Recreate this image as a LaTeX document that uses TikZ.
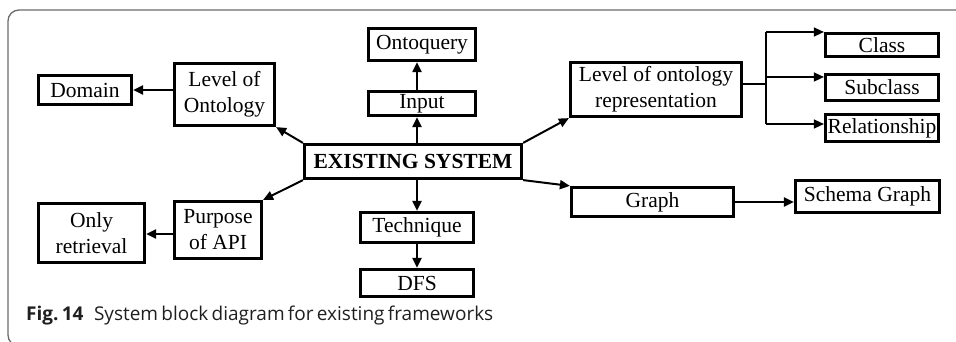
\documentclass[tikz,border=0pt]{standalone}
\usepackage{fontspec}
\setmainfont{Liberation Serif}
\newfontfamily\capfont{Open Sans}
\usetikzlibrary{arrows.meta,calc}

\tikzset{
  box/.style={draw=black, line width=3.2pt, fill=white, inner sep=1pt,
    align=center, font=\fontsize{21.5}{26}\selectfont},
  conn/.style={line width=2pt, -{Triangle[length=10pt,width=9pt]}},
  branch/.style={line width=1.5pt},
  frameline/.style={draw=black!58, line width=1.3pt, rounded corners=11pt},
}

\begin{document}
\begin{tikzpicture}[x=1pt, y=-1pt]
\useasboundingbox (0,0) rectangle (956,342);

% outer figure frame, open on the right
\draw[frameline] (970,10) -- (8,10) -- (8,346) -- (970,346);

% centre block
\node[box, minimum width=217pt, minimum height=34pt] (exist) at (413,161.5) {\textbf{EXISTING SYSTEM}};

% upper middle column
\node[box, minimum width=107pt, minimum height=24pt] (input) at (422,103.5) {Input};
\node[box, minimum width=107pt, minimum height=32pt] (onto)  at (422,44.5)  {Ontoquery};

% lower middle column
\node[box, minimum width=113pt, minimum height=30pt] (tech) at (417,227.5) {Technique};
\node[box, minimum width=113pt, minimum height=27pt] (dfs)  at (417,283)   {DFS};

% left branches
\node[box, minimum width=100pt, minimum height=62pt] (lvlont) at (224.5,94.5) {Level of\\Ontology};
\node[box, minimum width=93pt,  minimum height=29pt] (domain) at (85,90)      {Domain};
\node[box, minimum width=87pt,  minimum height=57pt] (purpose) at (218,230)   {Purpose\\of API};
\node[box, minimum width=106pt, minimum height=59pt] (only)    at (91.5,233)  {Only\\retrieval};

% right branches
\node[box, minimum width=171pt, minimum height=54pt] (lor) at (656,89.5) {Level of ontology\\representation};
\node[box, minimum width=113pt, minimum height=23pt] (class)    at (882,45)    {Class};
\node[box, minimum width=113pt, minimum height=26pt] (subclass) at (882,87.5)  {Subclass};
\node[box, minimum width=113pt, minimum height=27pt] (rel)      at (882,128)   {Relationship};
\node[box, minimum width=162pt, minimum height=29pt] (graph)  at (652.5,202) {Graph};
\node[box, minimum width=144pt, minimum height=32pt] (schema) at (867.5,196.5) {Schema Graph};

% branch points of the representation fork
\coordinate (bm) at (766,84);
\coordinate (b1) at (766,32);
\coordinate (b2) at (766,77);
\coordinate (b3) at (766,124);

% connectors
\draw[conn] (exist.north -| tech) -- (input.south -| tech);
\draw[conn] (input.north -| tech) -- (onto.south -| tech);
\draw[conn] (exist.south -| tech) -- (tech.north);
\draw[conn] (tech.south) -- (dfs.north);
\draw[conn] (exist.north west) -- (lvlont.south east);
\draw[conn] (lvlont.west |- domain) -- (domain.east);
\draw[conn] (exist.south west) -- (purpose.north east);
\draw[conn] ([yshift=-1pt]purpose.west |- only) -- ([yshift=-1pt]only.east);
\draw[conn] (exist.north east) -- (lor.south west);
\draw[conn] (exist.south east) -- (graph.north west);
\draw[conn] (graph.east) -- (graph.east -| schema.west);

\draw[branch] (lor.east |- bm) -- (bm);
\draw[branch] (b1) -- (b3);
\draw[conn, line width=1.5pt] (b1) -- (b1 -| class.west);
\draw[conn, line width=1.5pt] (b2) -- (b2 -| subclass.west);
\draw[conn, line width=1.5pt] (b3) -- (b3 -| rel.west);

% caption, spread to a fixed measure
\node[anchor=base west, inner sep=0pt, text=black!88,
  font=\capfont\fontsize{19}{22}\selectfont] (cap) at (26,320)
  {\makebox[460pt][s]{\textbf{Fig.~14}\hspace{0.55em}System block diagram for existing frameworks}};
\end{tikzpicture}
\end{document}
